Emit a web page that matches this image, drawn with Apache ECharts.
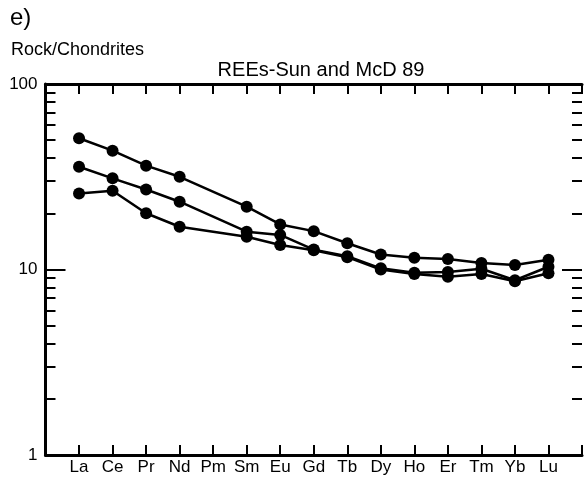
<!DOCTYPE html>
<html>
<head>
<meta charset="utf-8">
<script src="https://cdn.jsdelivr.net/npm/echarts@6/dist/echarts.min.js"></script>
<style>html,body{margin:0;padding:0;background:#fff;}#c{width:585px;height:480px;}</style>
</head>
<body>
<div id="c"></div>
<script>
const elements = ['La','Ce','Pr','Nd','Pm','Sm','Eu','Gd','Tb','Dy','Ho','Er','Tm','Yb','Lu'];
const sampleA = [51.0, 43.7, 36.3, 31.6, null, 21.8, 17.5, 16.1, 13.85, 12.05, 11.58, 11.4, 10.84, 10.57, 11.3];
const sampleB = [35.8, 31.0, 27.0, 23.2, null, 16.0, 15.35, 12.8, 11.8, 10.15, 9.6, 9.7, 10.1, 8.75, 10.35];
const sampleC = [25.7, 26.6, 20.1, 17.0, null, 15.0, 13.55, 12.7, 11.65, 10.0, 9.45, 9.15, 9.46, 8.65, 9.54];
const yMajorLabels = [1, 10, 100];
const yMinorTicks = [2,3,4,5,6,7,8,9,20,30,40,50,60,70,80,90];
const yMajorTicks = [10];

const FONT = 'Liberation Sans, Arial, sans-serif';
const cats = [''].concat(elements).concat(['']);
const pad = arr => [null].concat(arr).concat([null]);

function yAx(pos, ticks, len, labels, line) {
  return {
    type: 'log', logBase: 10, min: 1, max: 100, position: pos,
    axisLine: {show: line, onZero: false, lineStyle: {color: '#000', width: 3}},
    axisTick: {show: true, inside: true, length: len, customValues: ticks, lineStyle: {color: '#000', width: 2}},
    axisLabel: labels ? {show: true, customValues: yMajorLabels, color: '#000', fontSize: 17, fontFamily: FONT, margin: 8} : {show: false},
    splitLine: {show: false}, minorTick: {show: false}
  };
}
function xAx(pos, labels) {
  return {
    type: 'category', data: cats, boundaryGap: false, position: pos,
    axisLine: {show: true, onZero: false, lineStyle: {color: '#000', width: 3}},
    axisTick: {show: true, inside: true, length: 10, alignWithLabel: true, interval: 0, lineStyle: {color: '#000', width: 2}},
    axisLabel: labels ? {show: true, interval: 0, color: '#000', fontSize: 17, fontFamily: FONT, margin: 4} : {show: false},
    splitLine: {show: false}
  };
}
function ser(name, d) {
  return {
    name: name, type: 'line', data: pad(d), connectNulls: true,
    symbol: 'circle', symbolSize: 12, showSymbol: true,
    lineStyle: {color: '#000', width: 2.5}, itemStyle: {color: '#000'},
    xAxisIndex: 0, yAxisIndex: 0, animation: false, z: 5
  };
}
const chart = echarts.init(document.getElementById('c'), null, {renderer: 'canvas'});
chart.setOption({
  backgroundColor: '#fff',
  animation: false,
  title: [
    {text: 'e)', left: 5, top: 1, textStyle: {fontSize: 24, fontWeight: 'normal', color: '#000', fontFamily: FONT}},
    {text: 'Rock/Chondrites', left: 6, top: 36, textStyle: {fontSize: 18, fontWeight: 'normal', color: '#000', fontFamily: FONT}},
    {text: 'REEs-Sun and McD 89', left: 316, textAlign: 'center', top: 55, textStyle: {fontSize: 20, fontWeight: 'normal', color: '#000', fontFamily: FONT}}
  ],
  grid: {left: 45.5, top: 84, width: 541, height: 371, containLabel: false},
  xAxis: [xAx('bottom', true), xAx('top', false)],
  yAxis: [
    yAx('left', yMinorTicks, 10, true, true),
    yAx('left', yMajorTicks, 20, false, false),
    yAx('right', yMinorTicks, 10, false, false),
    yAx('right', yMajorTicks, 20, false, false)
  ],
  series: [ser('A', sampleA), ser('B', sampleB), ser('C', sampleC)]
});
</script>
</body>
</html>
